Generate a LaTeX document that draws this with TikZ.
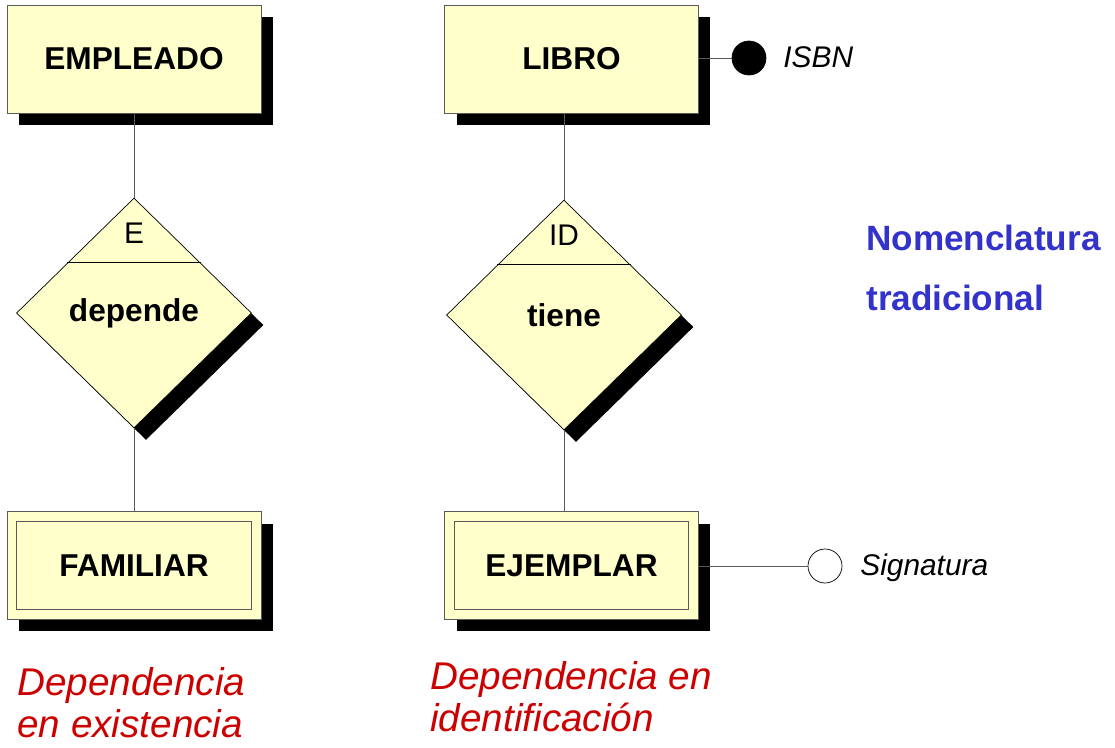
\documentclass[tikz,border=0pt]{standalone}
\usepackage{fontspec}
\setmainfont{Liberation Sans}
\usetikzlibrary{shapes.geometric,shadows,calc}
\definecolor{amarillo}{RGB}{255,255,204}
\definecolor{rojo}{RGB}{204,0,0}
\definecolor{azul}{RGB}{51,51,204}
\definecolor{borde}{RGB}{90,90,90}

\begin{document}
\begin{tikzpicture}[x=0.02cm,y=-0.02cm,
	sombra/.style={drop shadow={shadow xshift=0.24cm,shadow yshift=-0.24cm,fill=black,opacity=1}},
	entidad/.style={draw=borde,fill=amarillo,minimum width=5.08cm,minimum height=2.16cm,inner sep=0pt,
		font=\fontsize{18}{21}\selectfont\bfseries,sombra},
	relacion/.style={diamond,draw=black,fill=amarillo,minimum width=4.7cm,minimum height=4.6cm,inner sep=0pt,
		font=\fontsize{18}{21}\selectfont\bfseries,sombra},
	linea/.style={draw=borde,thin},
	atrib/.style={circle,draw=black,thin,minimum size=0.68cm,inner sep=0pt},
	etiq/.style={anchor=base west,inner sep=0pt},
	nota/.style={etiq,rojo,font=\fontsize{22}{24}\selectfont\itshape}]
\useasboundingbox (0,0) rectangle (1115,747);

% entidades
\node[entidad] (empleado) at (134,59) {EMPLEADO};
\node[entidad] (libro) at (571.5,59) {LIBRO};
\node[entidad] (familiar) at (134,565.5) {FAMILIAR};
\node[entidad] (ejemplar) at (571.5,565.5) {EJEMPLAR};
\foreach \e in {familiar,ejemplar}
	\draw[borde] ($(\e.north west)+(10,10)$) rectangle ($(\e.south east)+(-10,-10)$);

% relaciones
\node[relacion] (depende) at (134,313) {depende};
\node[relacion] (tiene) at (564,315) {tiene};
\foreach \r/\t in {depende/E,tiene/ID} {
	\draw ($(\r.north)!0.565!(\r.west)$) -- ($(\r.north)!0.565!(\r.east)$);
	\node[font=\fontsize{17}{20}\selectfont] (\r tipo) at ($(\r.north)+(0,36)$) {\t};
}

\draw[linea] (empleado) -- (depende);
\draw[linea] (depende) -- (familiar);
\draw[linea] (tiene.north) -- (tiene.north |- libro.south);
\draw[linea] (tiene.south) -- (tiene.south |- ejemplar.north);

% atributos
\node[atrib,fill=black] (isbn) at (749,58) {};
\node[atrib,fill=white] (signatura) at (825,566) {};
\draw[linea] (isbn -| libro.east) -- (isbn);
\draw[linea] (signatura -| ejemplar.east) -- (signatura);
\node[etiq,font=\fontsize{17}{20}\selectfont\itshape] (isbnlbl) at (783,67) {ISBN};
\node[etiq,font=\fontsize{17}{20}\selectfont\itshape] (signaturalbl) at (860,575) {Signatura};

% textos
\node[etiq,azul,font=\fontsize{20}{24}\selectfont\bfseries] (nom1) at (866,250) {Nomenclatura};
\node[etiq,azul,font=\fontsize{20}{24}\selectfont\bfseries] (nom2) at (866,310) {tradicional};
\node[nota] (exist1) at (17,695) {Dependencia};
\node[nota] (exist2) at (17,737) {en existencia};
\node[nota] (ident1) at (430,689) {Dependencia en};
\node[nota] (ident2) at (430,731) {identificación};
\end{tikzpicture}
\end{document}
